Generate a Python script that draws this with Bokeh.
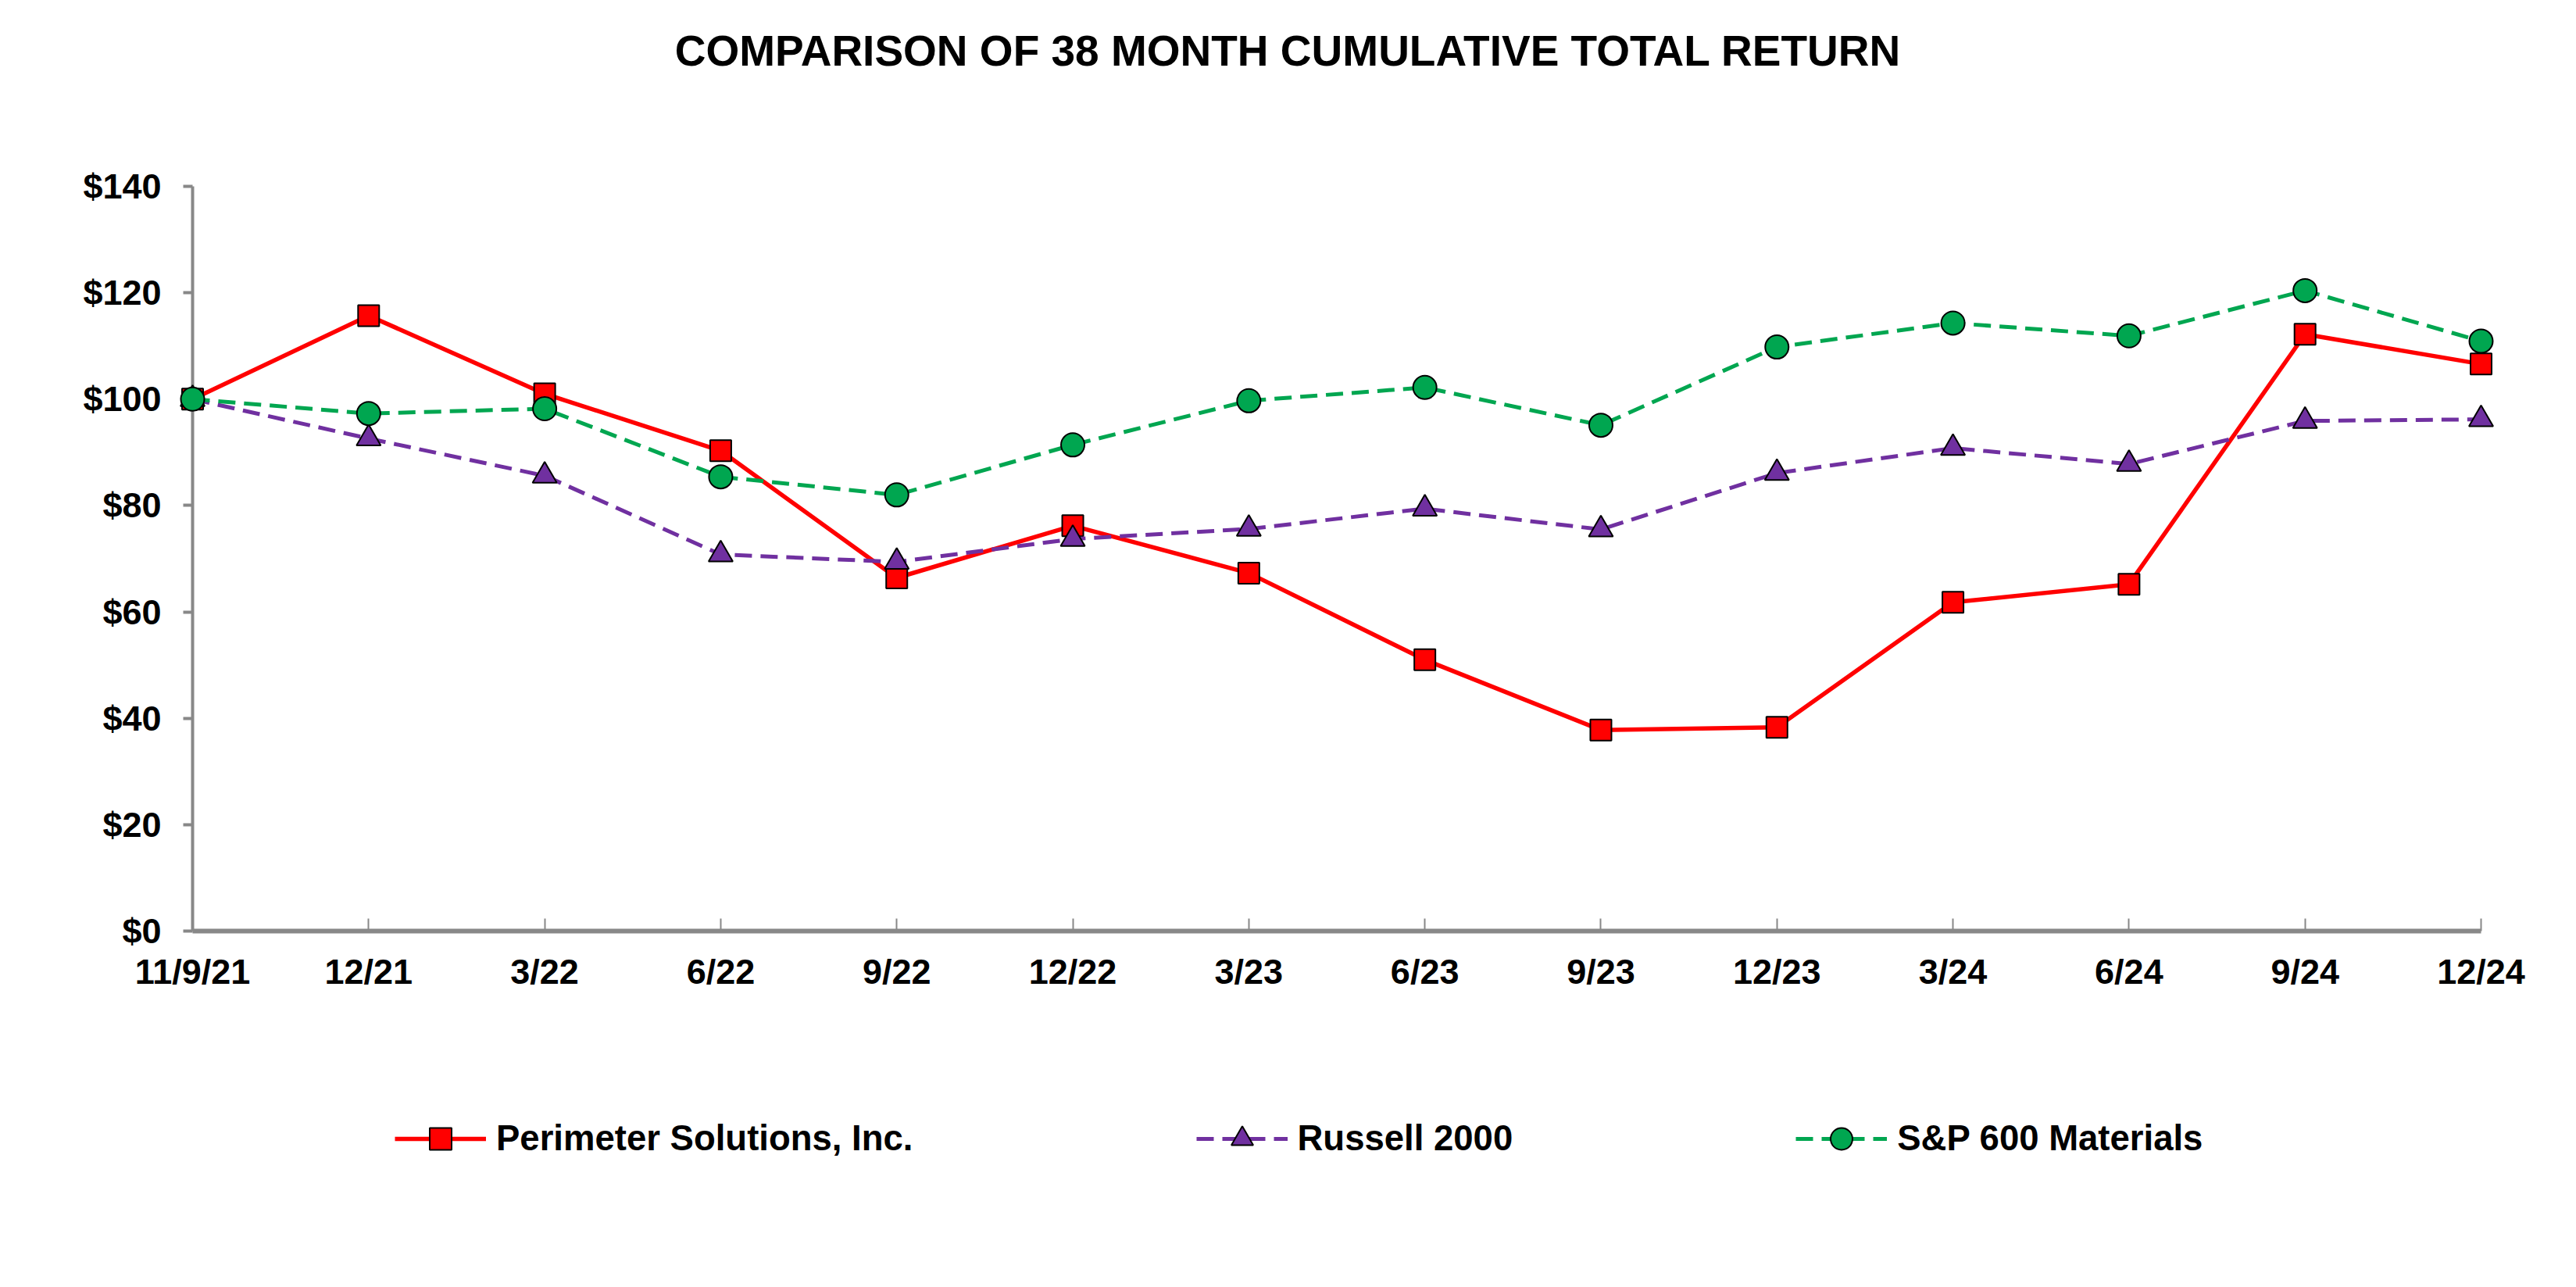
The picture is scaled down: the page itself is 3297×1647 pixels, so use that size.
from bokeh.plotting import figure
from bokeh.layouts import column
from bokeh.models import FixedTicker, NumeralTickFormatter, Legend, LegendItem, Range1d, Label
from bokeh.embed import file_html
from bokeh.resources import INLINE

periods = ["11/9/21", "12/21", "3/22", "6/22", "9/22", "12/22", "3/23",
           "6/23", "9/23", "12/23", "3/24", "6/24", "9/24", "12/24"]
perimeter = [100, 115.7, 101.0, 90.3, 66.4, 76.2, 67.3, 51.0, 37.8, 38.3, 61.8, 65.2, 112.2, 106.6]
russell = [100, 92.6, 85.6, 70.8, 69.4, 73.7, 75.6, 79.4, 75.5, 86.1, 90.8, 87.8, 95.9, 96.2]
sp600 = [100, 97.3, 98.2, 85.4, 82.0, 91.4, 99.7, 102.2, 95.1, 109.8, 114.3, 111.9, 120.4, 110.9]
y_ticks = [0, 20, 40, 60, 80, 100, 120, 140]
series_names = ["Perimeter Solutions, Inc.", "Russell 2000", "S&P 600 Materials"]
title_text = "COMPARISON OF 38 MONTH CUMULATIVE TOTAL RETURN"

FONT = "Liberation Sans"
x = list(range(len(periods)))

# page layout (pixels)
W, H = 3290, 1640
FL, FR = 246, 3175          # axis area left / right
Y0, Y140 = 1191, 238        # pixel rows of $0 and $140
FT = 20                     # frame top (frame also holds the title)
HA = 1301                   # height of the chart figure
px_per = (Y0 - Y140) / 140.0
y_hi = 140 + (Y140 - FT) / px_per
n = len(periods) - 1
px_x = (FR - FL) / n

red = "#FF0000"
purple = "#7030A0"
green = "#00A650"
styles = [
    dict(color=red, dash="solid", width=5.5, marker="square", size=27),
    dict(color=purple, dash="22 11", width=5, marker="triangle", size=31),
    dict(color=green, dash="22 11", width=5, marker="circle", size=30),
]
all_series = [perimeter, russell, sp600]

p = figure(width=W, height=HA, output_backend="svg", toolbar_location=None,
           x_range=Range1d(0, n), y_range=Range1d(0, y_hi),
           min_border_left=FL, min_border_right=W - FR, min_border_top=FT,
           min_border_bottom=HA - Y0)
p.title.visible = False
p.outline_line_color = None
p.xgrid.visible = False
p.ygrid.visible = False
p.background_fill_color = "white"
p.border_fill_color = "white"

title = Label(x=(1648 - FL) / px_x, y=140 + (Y140 - 64) / px_per,
              text=title_text, text_font=FONT, text_font_style="bold", text_font_size="55px",
              text_color="black", text_align="center", text_baseline="middle")
p.add_layout(title)

xa = p.xaxis[0]
xa.ticker = FixedTicker(ticks=x)
xa.major_label_overrides = {i: lab for i, lab in enumerate(periods)}
xa.axis_line_color = "#888888"
xa.axis_line_width = 6
xa.major_tick_line_color = "#888888"
xa.major_tick_line_width = 2
xa.major_tick_in = 16
xa.major_tick_out = 0
xa.minor_tick_line_color = None
xa.major_label_text_font = FONT
xa.major_label_text_font_style = "bold"
xa.major_label_text_font_size = "45px"
xa.major_label_text_color = "black"
xa.major_label_standoff = 26

ya = p.yaxis[0]
ya.bounds = (0, 140)
ya.ticker = FixedTicker(ticks=y_ticks)
ya.formatter = NumeralTickFormatter(format="$0")
ya.axis_line_color = "#888888"
ya.axis_line_width = 4
ya.major_tick_line_color = "#888888"
ya.major_tick_line_width = 4
ya.major_tick_in = 0
ya.major_tick_out = 12
ya.minor_tick_line_color = None
ya.major_label_text_font = FONT
ya.major_label_text_font_style = "bold"
ya.major_label_text_font_size = "45px"
ya.major_label_text_color = "black"
ya.major_label_standoff = 28

for vals, st in zip(all_series, styles):
    p.line(x, vals, line_color=st["color"], line_width=st["width"], line_dash=st["dash"], level="overlay")
    p.scatter(x, vals, marker=st["marker"], size=st["size"], fill_color=st["color"],
              line_color="black", line_width=2, level="overlay")

# legend strip below the chart (its series sit outside its visible range; only the legend shows)
HB = H - HA
q = figure(width=W, height=HB, output_backend="svg", toolbar_location=None,
           x_range=Range1d(0, n), y_range=Range1d(1000, 1001),
           x_axis_location=None, y_axis_location=None,
           min_border_left=0, min_border_right=0, min_border_top=0, min_border_bottom=0)
q.title.visible = False
q.outline_line_color = None
q.xgrid.visible = False
q.ygrid.visible = False
q.background_fill_color = "white"
q.border_fill_color = "white"

items = []
for name, vals, st in zip(series_names, all_series, styles):
    lr = q.line(x, vals, line_color=st["color"], line_width=st["width"], line_dash=st["dash"])
    mr = q.scatter(x, vals, marker=st["marker"], size=st["size"], fill_color=st["color"],
                   line_color="black", line_width=2)
    items.append(LegendItem(label=name, renderers=[lr, mr]))

legend = Legend(items=items, orientation="horizontal", location=(505 - FL, H - 1492))
legend.label_text_font = FONT
legend.label_text_font_style = "bold"
legend.label_text_font_size = "45.5px"
legend.label_text_color = "black"
legend.glyph_width = 117
legend.glyph_height = 70
legend.label_standoff = 13
legend.spacing = 362
legend.padding = 0
legend.margin = 0
legend.border_line_color = None
legend.background_fill_color = None
legend.background_fill_alpha = 0
q.add_layout(legend, "center")

layout = column(p, q, spacing=0)
open("out.html", "w").write(file_html(layout, INLINE))
